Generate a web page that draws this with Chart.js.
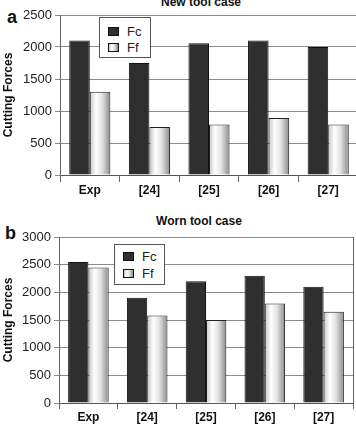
<!DOCTYPE html>
<html>
<head>
<meta charset="utf-8">
<script src="https://cdn.jsdelivr.net/npm/chart.js@4.4.1/dist/chart.umd.min.js"></script>
<style>
  body { margin: 0; background: #fff; width: 356px; height: 424px; overflow: hidden; position: relative; font-family: "Liberation Sans", Arial, sans-serif; }
  .panel { position: absolute; left: 0; }
  .txt { position: absolute; font-weight: bold; color: #111; white-space: nowrap; }
  .title { font-size: 12px; line-height: 12px; transform: translateX(-50%); }
  .letter { font-size: 18px; line-height: 18px; }
  .legend { position: absolute; background: #fff; border: 1px solid #555; box-sizing: border-box; }
  .legend .sw { position: absolute; width: 11px; height: 9px; border: 1px solid #111; box-sizing: border-box; }
  .legend .lb { position: absolute; font-size: 13px; line-height: 13px; color: #222; }
</style>
</head>
<body>
<div class="txt title" style="left:201px; top:-4px;">New tool case</div>
<div class="txt letter" style="left:7px; top:8px;">a</div>
<div class="panel" style="top:0; width:358px; height:200px;"><canvas id="chartA"></canvas></div>
<div class="legend" id="legendA" style="left:99px; top:17px; width:52px; height:41px;"></div>

<div class="txt title" style="left:199px; top:215px;">Worn tool case</div>
<div class="txt letter" style="left:5px; top:224px;">b</div>
<div class="panel" style="top:212px; width:356px; height:212px;"><canvas id="chartB"></canvas></div>
<div class="legend" id="legendB" style="left:114px; top:244px; width:51px; height:41px;"></div>

<script>
// Data
const categories = ['Exp', '[24]', '[25]', '[26]', '[27]'];
const seriesLabels = ['Fc', 'Ff'];

const newFc = [2100, 1750, 2060, 2100, 2000];
const newFf = [1300, 750, 790, 890, 790];

const wornFc = [2550, 1900, 2200, 2300, 2100];
const wornFf = [2450, 1580, 1500, 1800, 1650];

const CAT_PCT = 0.69;
const FC_COLOR = '#2f2f2f';

// cylinder-like shading for the Ff bars, built from the x scale
function ffFill(ctx) {
    const chart = ctx.chart;
    const x = chart.scales.x;
    if (!x || !x.width) return '#e6e6e6';
    const cw = x.width / categories.length;
    const group = cw * CAT_PCT;
    const c = x.getPixelForValue(ctx.dataIndex);
    const g = chart.ctx.createLinearGradient(c, 0, c + group / 2, 0);
    g.addColorStop(0, '#c4c4c4');
    g.addColorStop(0.3, '#ffffff');
    g.addColorStop(0.6, '#e2e2e2');
    g.addColorStop(1, '#8a8a8a');
    return g;
}

function makeChart(id, fc, ff, opts) {
    const ctx = document.getElementById(id).getContext('2d');
    return new Chart(ctx, {
        type: 'bar',
        data: {
            labels: categories,
            datasets: [
                { label: seriesLabels[0], data: fc, backgroundColor: FC_COLOR, borderColor: '#111', borderWidth: 1 },
                { label: seriesLabels[1], data: ff, backgroundColor: ffFill, borderColor: '#222', borderWidth: 1 }
            ]
        },
        options: {
            responsive: true,
            maintainAspectRatio: false,
            animation: false,
            layout: { padding: { top: opts.top, right: opts.right, left: 0, bottom: 0 } },
            datasets: { bar: { categoryPercentage: CAT_PCT, barPercentage: 1.0 } },
            plugins: { legend: { display: false }, tooltip: { enabled: false } },
            scales: {
                x: {
                    grid: { offset: true, drawOnChartArea: false, color: '#666', tickLength: opts.tickLen },
                    border: { color: '#555' },
                    ticks: {
                        color: '#111', padding: 1,
                        font: { family: 'Liberation Sans', size: 12, weight: 'bold' }
                    },
                    afterFit: (s) => { s.height = opts.xHeight; }
                },
                y: {
                    min: 0,
                    max: opts.max,
                    ticks: {
                        stepSize: 500, color: '#222', padding: 3,
                        font: { family: 'Liberation Sans', size: 13 },
                        callback: (v) => String(v)
                    },
                    grid: { color: '#8c8c8c', tickLength: 5 },
                    border: { color: '#666' },
                    title: {
                        display: true, text: 'Cutting Forces', color: '#111',
                        padding: { top: 1, bottom: 0 },
                        font: { family: 'Liberation Sans', size: 12, weight: 'bold' }
                    },
                    afterFit: (s) => { s.width = opts.yWidth; }
                },
                y2: {
                    position: 'right',
                    min: 0,
                    max: opts.max,
                    ticks: { display: false },
                    grid: { drawOnChartArea: false, drawTicks: false },
                    border: { color: '#666' },
                    afterFit: (s) => { s.width = 0; }
                }
            }
        }
    });
}

function buildLegend(el, chart, rows) {
    chart.data.datasets.forEach((ds, i) => {
        const sw = document.createElement('div');
        sw.className = 'sw';
        sw.style.left = '8px';
        sw.style.top = rows[i] + 'px';
        sw.style.background = i === 0 ? FC_COLOR
            : 'linear-gradient(to right, #c4c4c4 0%, #fff 30%, #e2e2e2 60%, #8a8a8a 100%)';
        const lb = document.createElement('div');
        lb.className = 'lb';
        lb.style.left = '27px';
        lb.style.top = (rows[i] - 2) + 'px';
        lb.textContent = ds.label;
        el.appendChild(sw);
        el.appendChild(lb);
    });
}

const chartA = makeChart('chartA', newFc, newFf, { top: 15, right: 0, max: 2500, xHeight: 25, yWidth: 60, tickLen: 7 });
const chartB = makeChart('chartB', wornFc, wornFf, { top: 25, right: 3, max: 3000, xHeight: 21, yWidth: 59, tickLen: 6 });

buildLegend(document.getElementById('legendA'), chartA, [9, 25]);
buildLegend(document.getElementById('legendB'), chartB, [7, 24]);
</script>
</body>
</html>
